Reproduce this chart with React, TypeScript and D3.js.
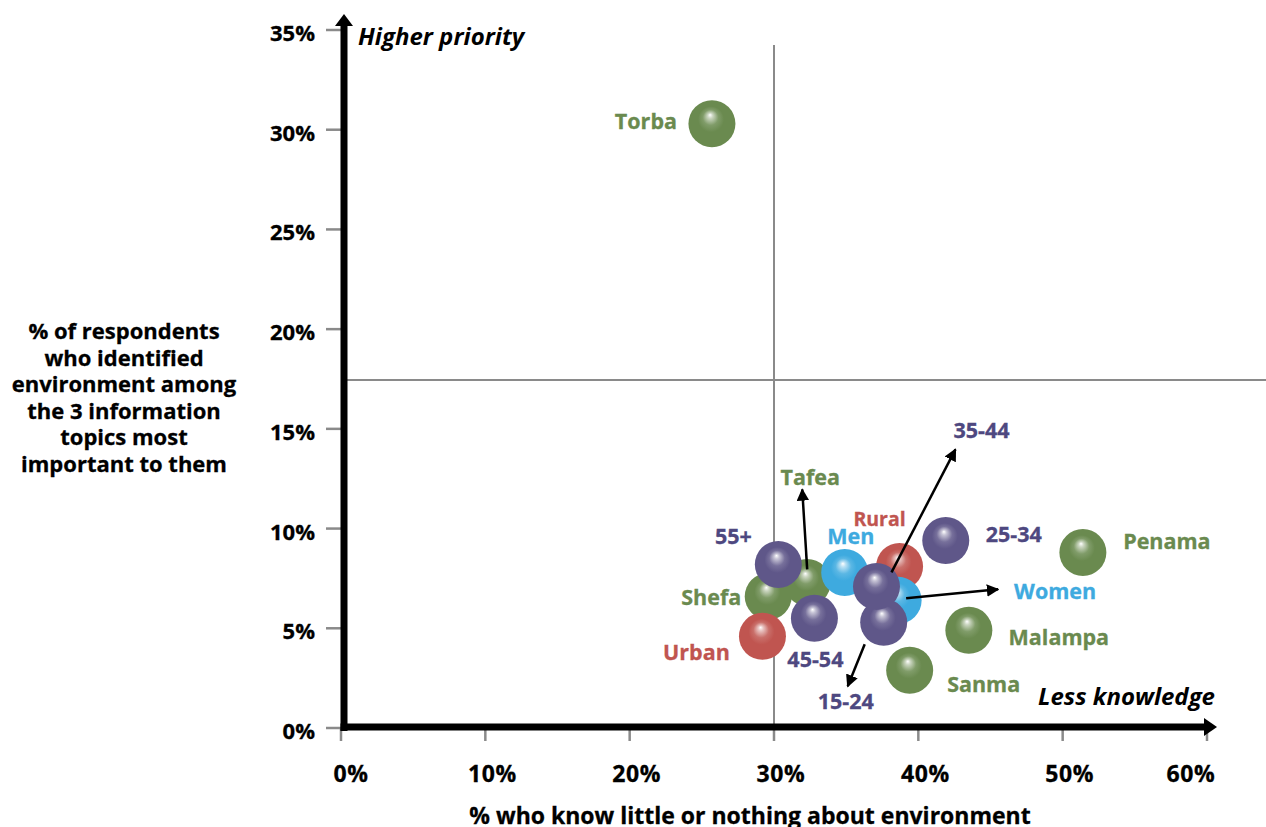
import React from "react";
import * as d3 from "d3";

// ---- data ----
const names = ["Torba", "Shefa", "Tafea", "Urban", "Penama", "Malampa", "Sanma", "Rural", "Men", "Women", "55+", "45-54", "25-34", "15-24", "35-44"];
const groups = ["province", "province", "province", "area", "province", "province", "province", "area", "gender", "gender", "age", "age", "age", "age", "age"];
const xValues = [25.7, 29.6, 32.3, 29.2, 51.4, 43.5, 39.4, 38.7, 34.9, 38.6, 30.3, 32.8, 41.9, 37.6, 37.1];
const yValues = [30.3, 6.6, 7.3, 4.6, 8.8, 4.9, 2.9, 8.1, 7.8, 6.4, 8.2, 5.5, 9.4, 5.3, 7.1];
const xTicks = [0, 10, 20, 30, 40, 50, 60];
const yTicks = [0, 5, 10, 15, 20, 25, 30, 35];
const refX = 30;
const refY = 17.45;
const yTitleLines = ["% of respondents", "who identified", "environment among", "the 3 information", "topics most", "important to them"];

// ---- layout (label offsets in px from bubble centre) ----
const labelOffsets: Record<string, [number, number]> = {
  Torba: [-66, -3], Tafea: [3, -106], "55+": [-45, -29], Men: [6, -37], Rural: [-20, -48],
  Shefa: [-57, 0], Urban: [-66, 15], "45-54": [1, 40], "15-24": [-38, 78], Sanma: [74, 13],
  Malampa: [90, 6], Women: [157, -10], "25-34": [68, -7], Penama: [84, -12], "35-44": [105, -157],
};
const labelSizes: Record<string, number> = { Rural: 19.5 };
const arrowOffsets: Record<string, [number, number, number, number]> = {
  Tafea: [0, -13, -5, -93],
  "35-44": [15, -14, 79, -137],
  Women: [8, -2, 100, -11],
  "15-24": [-19, 22, -36, 64],
};
const fill: Record<string, string> = { province: "#6a8a4f", area: "#c05550", gender: "#3eaadf", age: "#5f5789" };
const textFill: Record<string, string> = { province: "#6a8a4f", area: "#c05550", gender: "#3eaadf", age: "#4e4880" };

const W = 1266, H = 827;
const x = d3.scaleLinear().domain([0, 60]).range([341, 1207]);
const y = d3.scaleLinear().domain([0, 35]).range([728, 30]);
const R = 23.5;
const font = "'Open Sans', 'Noto Sans', sans-serif";

export default function App() {
  const idx = d3.range(names.length);
  const axX = 344, axY = 727;
  return (
    <svg width={W} height={H} style={{ position: "absolute", left: 0, top: 0, background: "#fff" }} fontFamily={font}>
      <defs>
        {Object.entries(fill).map(([k, c]) => (
          <radialGradient key={k} id={`g-${k}`} cx="50%" cy="50%" r="55%" fx="46%" fy="31%">
            <stop offset="0%" stopColor="#ffffff" />
            <stop offset="10%" stopColor={d3.interpolateRgb("#ffffff", c)(0.35)} />
            <stop offset="30%" stopColor={d3.interpolateRgb("#ffffff", c)(0.85)} />
            <stop offset="50%" stopColor={c} />
            <stop offset="100%" stopColor={c} />
          </radialGradient>
        ))}
        <marker id="ah" viewBox="0 0 10 10" refX="9" refY="5" markerWidth="5" markerHeight="5" orient="auto" markerUnits="strokeWidth">
          <path d="M0,0 L10,5 L0,10 z" fill="#000" />
        </marker>
      </defs>

      {/* reference lines */}
      <line x1={x(refX)} x2={x(refX)} y1={45} y2={axY} stroke="#8a8a8a" strokeWidth={2} />
      <line x1={axX} x2={W} y1={y(refY)} y2={y(refY)} stroke="#8a8a8a" strokeWidth={2} />

      {/* ticks */}
      {xTicks.map((t) => (
        <g key={`xt${t}`}>
          <line x1={x(t)} x2={x(t)} y1={axY} y2={741} stroke="#8a8a8a" strokeWidth={2.5} />
          <text x={x(t) + (t === 0 ? 10 : t === 60 ? -16 : 7)} y={773} textAnchor="middle" dominantBaseline="central" fontSize={23} fontWeight={700} letterSpacing={0.6} stroke="#000" strokeWidth={0.3}>{t}%</text>
        </g>
      ))}
      {yTicks.map((t) => (
        <g key={`yt${t}`}>
          <line x1={326} x2={axX} y1={y(t)} y2={y(t)} stroke="#8a8a8a" strokeWidth={2.5} />
          <text x={315} y={y(t) + 2} textAnchor="end" dominantBaseline="central" fontSize={22} fontWeight={700} stroke="#000" strokeWidth={0.3}>{t}%</text>
        </g>
      ))}

      {/* axes with arrows */}
      <line x1={axX} x2={axX} y1={axY + 4} y2={24} stroke="#000" strokeWidth={7} />
      <path d={`M${axX - 9},26 L${axX},14 L${axX + 9},26 z`} fill="#000" />
      <line x1={axX - 3.5} x2={1206} y1={axY} y2={axY} stroke="#000" strokeWidth={7} />
      <path d={`M1204,${axY - 9} L1217,${axY} L1204,${axY + 9} z`} fill="#000" />

      <text x={358} y={35} dominantBaseline="central" fontSize={24} fontWeight={700} fontStyle="italic">Higher priority</text>
      <text x={1215} y={695} textAnchor="end" dominantBaseline="central" fontSize={24} fontWeight={700} fontStyle="italic">Less knowledge</text>

      {/* axis titles */}
      <text x={750} y={815} textAnchor="middle" dominantBaseline="central" fontSize={23} fontWeight={700} stroke="#000" strokeWidth={0.3}>% who know little or nothing about environment</text>
      {yTitleLines.map((l, i) => (
        <text key={l} x={124} y={330 + i * 26.6} textAnchor="middle" dominantBaseline="central" fontSize={22} fontWeight={700} stroke="#000" strokeWidth={0.3}>{l}</text>
      ))}

      {/* bubbles */}
      {idx.map((i) => (
        <circle key={names[i]} cx={x(xValues[i])} cy={y(yValues[i])} r={R} fill={`url(#g-${groups[i]})`} />
      ))}

      {/* arrows */}
      {idx.filter((i) => arrowOffsets[names[i]]).map((i) => {
        const [a, b, c, d] = arrowOffsets[names[i]];
        const cx = x(xValues[i]), cy = y(yValues[i]);
        return <line key={`a${i}`} x1={cx + a} y1={cy + b} x2={cx + c} y2={cy + d} stroke="#000" strokeWidth={2.5} markerEnd="url(#ah)" />;
      })}

      {/* labels */}
      {idx.map((i) => {
        const [dx, dy] = labelOffsets[names[i]];
        const c = textFill[groups[i]];
        return (
          <text key={`l${i}`} x={x(xValues[i]) + dx} y={y(yValues[i]) + dy} textAnchor="middle" dominantBaseline="central"
            fontSize={labelSizes[names[i]] ?? 21.5} fontWeight={700} fill={c} stroke={c} strokeWidth={0.3}>{names[i]}</text>
        );
      })}
    </svg>
  );
}
